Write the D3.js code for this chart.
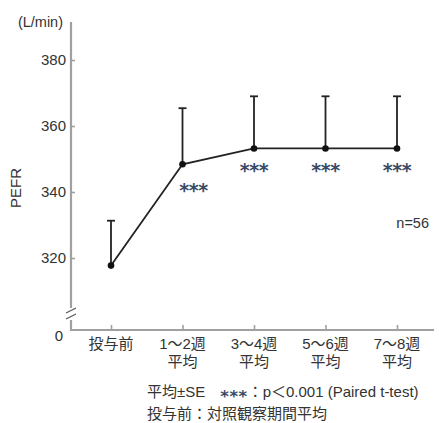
<!DOCTYPE html>
<html><head><meta charset="utf-8">
<script src="https://cdn.jsdelivr.net/npm/d3@7"></script>
<style>
body{margin:0;background:#fff;}
text{font-family:"Liberation Sans","Noto Sans CJK JP",sans-serif;fill:#333;}
.star{font-family:"DejaVu Sans";font-weight:bold;fill:#3a4a66;}
</style></head>
<body><svg id="c" width="439" height="423"></svg>
<script>
const categories = [["投与前"],["1〜2週","平均"],["3〜4週","平均"],["5〜6週","平均"],["7〜8週","平均"]];
const means = [317.7, 348.4, 353.2, 353.2, 353.2];
const seUpper = [331.3, 365.4, 369.0, 369.0, 369.0];
const stars = ["", "***", "***", "***", "***"];
const yTicks = [320, 340, 360, 380];
const footnote1 = ["平均±SE　", "***", "：p＜0.001 (Paired t-test)"];
const footnote2 = "投与前：対照観察期間平均";

const svg = d3.select("#c");
const axisCol = "#a0a0a0";
const ink = "#222";
const x = d3.scalePoint().domain(d3.range(categories.length)).range([111, 397]);
const y = d3.scaleLinear().domain([320, 380]).range([258, 60]);
const xAxisY = 330, axisX = 71;

// y axis line (broken)
svg.append("line").attr("x1",axisX).attr("x2",axisX).attr("y1",22).attr("y2",308)
  .attr("stroke",axisCol).attr("stroke-width",2.2);
svg.append("line").attr("x1",axisX).attr("x2",axisX).attr("y1",320).attr("y2",xAxisY+1)
  .attr("stroke",axisCol).attr("stroke-width",2.2);
[310.5, 316.5].forEach(v=>{
  svg.append("line").attr("x1",axisX-5).attr("x2",axisX+5).attr("y1",v+2.5).attr("y2",v-2.5)
    .attr("stroke","#555").attr("stroke-width",1.1);
});
// y ticks
const yAx = d3.axisRight(y).tickValues(yTicks).tickSize(4).tickFormat("");
const gy = svg.append("g").attr("transform",`translate(${axisX},0)`).call(yAx);
gy.select(".domain").remove();
gy.selectAll("line").attr("stroke",axisCol).attr("stroke-width",1.6);
yTicks.forEach(t=>{
  svg.append("text").attr("x",axisX-5).attr("y",y(t)).attr("dy","0.36em")
    .attr("text-anchor","end").attr("font-size",15).text(t);
});
svg.append("text").attr("x",axisX-8).attr("y",xAxisY+6).attr("dy","0.36em")
  .attr("text-anchor","end").attr("font-size",15).text("0");
svg.append("text").attr("x",63).attr("y",27).attr("text-anchor","end").attr("font-size",14.5).text("(L/min)");
svg.append("text").attr("transform","translate(21,188) rotate(-90)").attr("text-anchor","middle")
  .attr("font-size",15).text("PEFR");

// x axis
svg.append("line").attr("x1",axisX-1).attr("x2",434).attr("y1",xAxisY).attr("y2",xAxisY)
  .attr("stroke",axisCol).attr("stroke-width",2.2);
const xAx = d3.axisTop(x).tickSize(5).tickFormat("");
const gx = svg.append("g").attr("transform",`translate(0,${xAxisY})`).call(xAx);
gx.select(".domain").remove();
gx.selectAll("line").attr("stroke",axisCol).attr("stroke-width",1.6);
categories.forEach((c,i)=>{
  c.forEach((s,j)=>{
    svg.append("text").attr("x",x(i)).attr("y",349+j*17.5).attr("text-anchor","middle")
      .attr("font-size",15).text(s);
  });
});

// error bars
const g = svg.append("g");
means.forEach((m,i)=>{
  g.append("line").attr("x1",x(i)).attr("x2",x(i)).attr("y1",y(m)).attr("y2",y(seUpper[i]))
    .attr("stroke",ink).attr("stroke-width",1.8);
  g.append("line").attr("x1",x(i)-4).attr("x2",x(i)+4).attr("y1",y(seUpper[i])).attr("y2",y(seUpper[i]))
    .attr("stroke",ink).attr("stroke-width",1.8);
});
// line
g.append("path").datum(means).attr("fill","none").attr("stroke",ink).attr("stroke-width",1.8)
  .attr("d",d3.line().x((d,i)=>x(i)).y(d=>y(d)));
g.selectAll("circle").data(means).join("circle").attr("cx",(d,i)=>x(i)).attr("cy",d=>y(d))
  .attr("r",3.3).attr("fill","#111");
// stars (shifted away from a steep incoming segment); DejaVu asterisk sits ~0.59em above baseline
stars.forEach((s,i)=>{
  if(!s) return;
  const steep = i>0 && Math.abs(y(means[i])-y(means[i-1]))>40;
  const cy = y(means[i])+(steep?22:18);
  svg.append("text").attr("class","star").attr("x",x(i)+(steep?11:0)).attr("y",cy+11)
    .attr("text-anchor","middle").attr("font-size",19).attr("letter-spacing",-0.5).text(s);
});
svg.append("text").attr("x",429).attr("y",223).attr("dy","0.36em").attr("text-anchor","end")
  .attr("font-size",14.5).text("n=56");

// footnotes
const f1 = svg.append("text").attr("x",147).attr("y",397).attr("font-size",15);
f1.append("tspan").text(footnote1[0]);
f1.append("tspan").attr("class","star").attr("font-size",16.5).attr("dy",4.5).attr("letter-spacing",0.5).text(footnote1[1]);
f1.append("tspan").attr("dy",-4.5).text(footnote1[2]);
svg.append("text").attr("x",147).attr("y",419).attr("font-size",15).text(footnote2);
</script></body></html>
